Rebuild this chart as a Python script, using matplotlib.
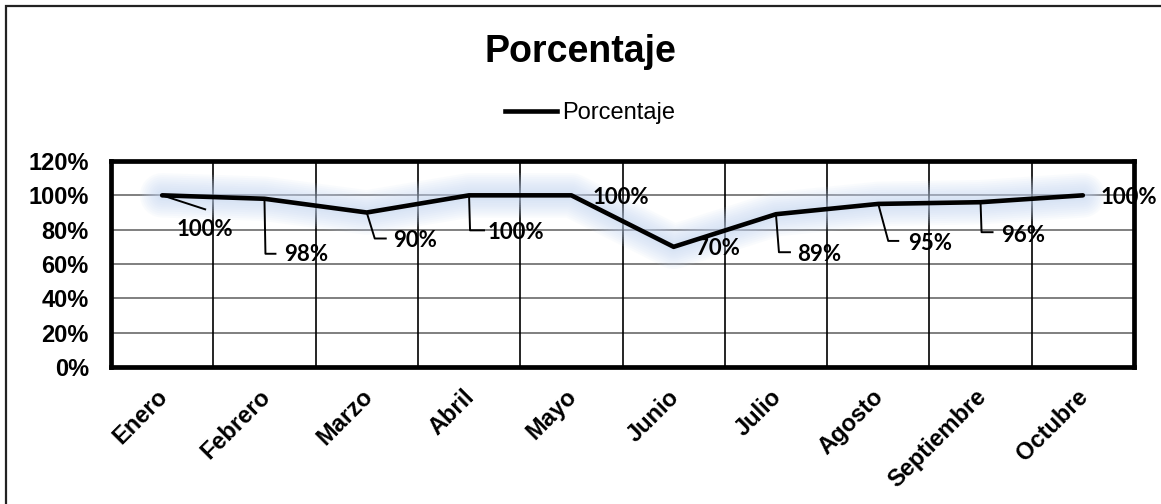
import matplotlib
matplotlib.use("Agg")
import matplotlib.pyplot as plt
from matplotlib.lines import Line2D
from matplotlib.patches import Rectangle
from matplotlib.transforms import ScaledTranslation

plt.rcParams['font.family'] = 'Liberation Sans'

meses = ['Enero', 'Febrero', 'Marzo', 'Abril', 'Mayo', 'Junio',
         'Julio', 'Agosto', 'Septiembre', 'Octubre']
porcentaje = [1.00, 0.98, 0.90, 1.00, 1.00, 0.70, 0.89, 0.95, 0.96, 1.00]
etiquetas = ['100%', '98%', '90%', '100%', '100%', '70%', '89%', '95%', '96%', '100%']
y_ticks = [0, 0.2, 0.4, 0.6, 0.8, 1.0, 1.2]

# label offsets in pixels from the point (dx right, dy down), leader elbow points
label_off = [(43, 34), (42, 56), (48, 28), (47, 37), (49, 2), (44, 2),
             (43, 40), (52, 40), (43, 33), (46, 2)]
leaders = [
    [(0, 0), (43, 14)],
    [(0, 0), (1, 55), (11, 55)],
    [(0, 0), (8, 26), (19, 26)],
    [(0, 0), (1, 35), (15, 35)],
    None, None,
    [(0, 0), (3, 38), (14, 38)],
    [(0, 0), (10, 37), (20, 37)],
    [(0, 0), (1, 30), (12, 30)],
    None,
]

W, H = 1161, 504
fig = plt.figure(figsize=(W / 100, H / 100), dpi=100)
ax_l, ax_r, ax_t, ax_b = 111, 1134, 161, 367
ax = fig.add_axes([ax_l / W, 1 - ax_b / H, (ax_r - ax_l) / W, (ax_b - ax_t) / H])

x = list(range(len(meses)))
ax.set_xlim(-0.5, len(meses) - 0.5)
ax.set_ylim(0, 1.2)
px_x = (ax_r - ax_l) / len(meses)
px_y = (ax_b - ax_t) / 1.2

# gridlines
for yv in y_ticks[1:-1]:
    ax.axhline(yv, color='#7f7f7f', lw=1.4, zorder=1)
for xv in range(len(meses) - 1):
    ax.axvline(xv + 0.5, color='black', lw=1.2, zorder=1)

# soft glow around the line
for lw in [32, 29, 26, 23, 20, 17, 14, 11, 8, 6]:
    ax.plot(x, porcentaje, color='#c4d6f2', lw=lw, alpha=0.09,
            solid_capstyle='round', solid_joinstyle='round', zorder=2)
ax.plot(x, porcentaje, color='black', lw=3.3, solid_capstyle='round', zorder=4)

# data labels and leader lines
for i, (v, t) in enumerate(zip(porcentaje, etiquetas)):
    dx, dy = label_off[i]
    ax.text(i + dx / px_x, v - dy / px_y, t, ha='center', va='center',
            fontsize=16, fontweight='bold', family='Lato', zorder=5)
    if leaders[i]:
        xs = [i + p[0] / px_x for p in leaders[i]]
        ys = [v - p[1] / px_y for p in leaders[i]]
        ax.plot(xs, ys, color='black', lw=1.4, zorder=5)

for s in ax.spines.values():
    s.set_linewidth(3.4)
    s.set_zorder(6)

ax.set_yticks(y_ticks)
ax.set_yticklabels([f'{int(round(v * 100))}%' for v in y_ticks],
                   fontsize=17, fontweight='bold')
ax.set_xticks(x)
ax.set_xticklabels(meses, fontsize=17, fontweight='bold', rotation=45,
                   ha='right', va='center', rotation_mode='anchor')
ax.tick_params(axis='both', length=0)
ax.tick_params(axis='y', pad=16)
ax.tick_params(axis='x', pad=19)
for lab in ax.get_xticklabels():
    lab.set_transform(lab.get_transform() + ScaledTranslation(0.02, 0, fig.dpi_scale_trans))

fig.text(0.5, 1 - 52 / H, 'Porcentaje', ha='center', va='center',
         fontsize=27, fontweight='bold')
handle = Line2D([], [], color='black', lw=3.3)
fig.legend([handle], ['Porcentaje'], loc='center', frameon=False,
           bbox_to_anchor=(590 / W, 1 - 113 / H), fontsize=17,
           handlelength=2.2, handletextpad=0.25)

# outer chart border
fig.patches.append(Rectangle((6 / W, -0.05), 1.2, 1 - 6 / H + 0.05,
                             transform=fig.transFigure, fill=False,
                             edgecolor='#222222', lw=1.6))

fig.savefig('out.png', dpi=100)
